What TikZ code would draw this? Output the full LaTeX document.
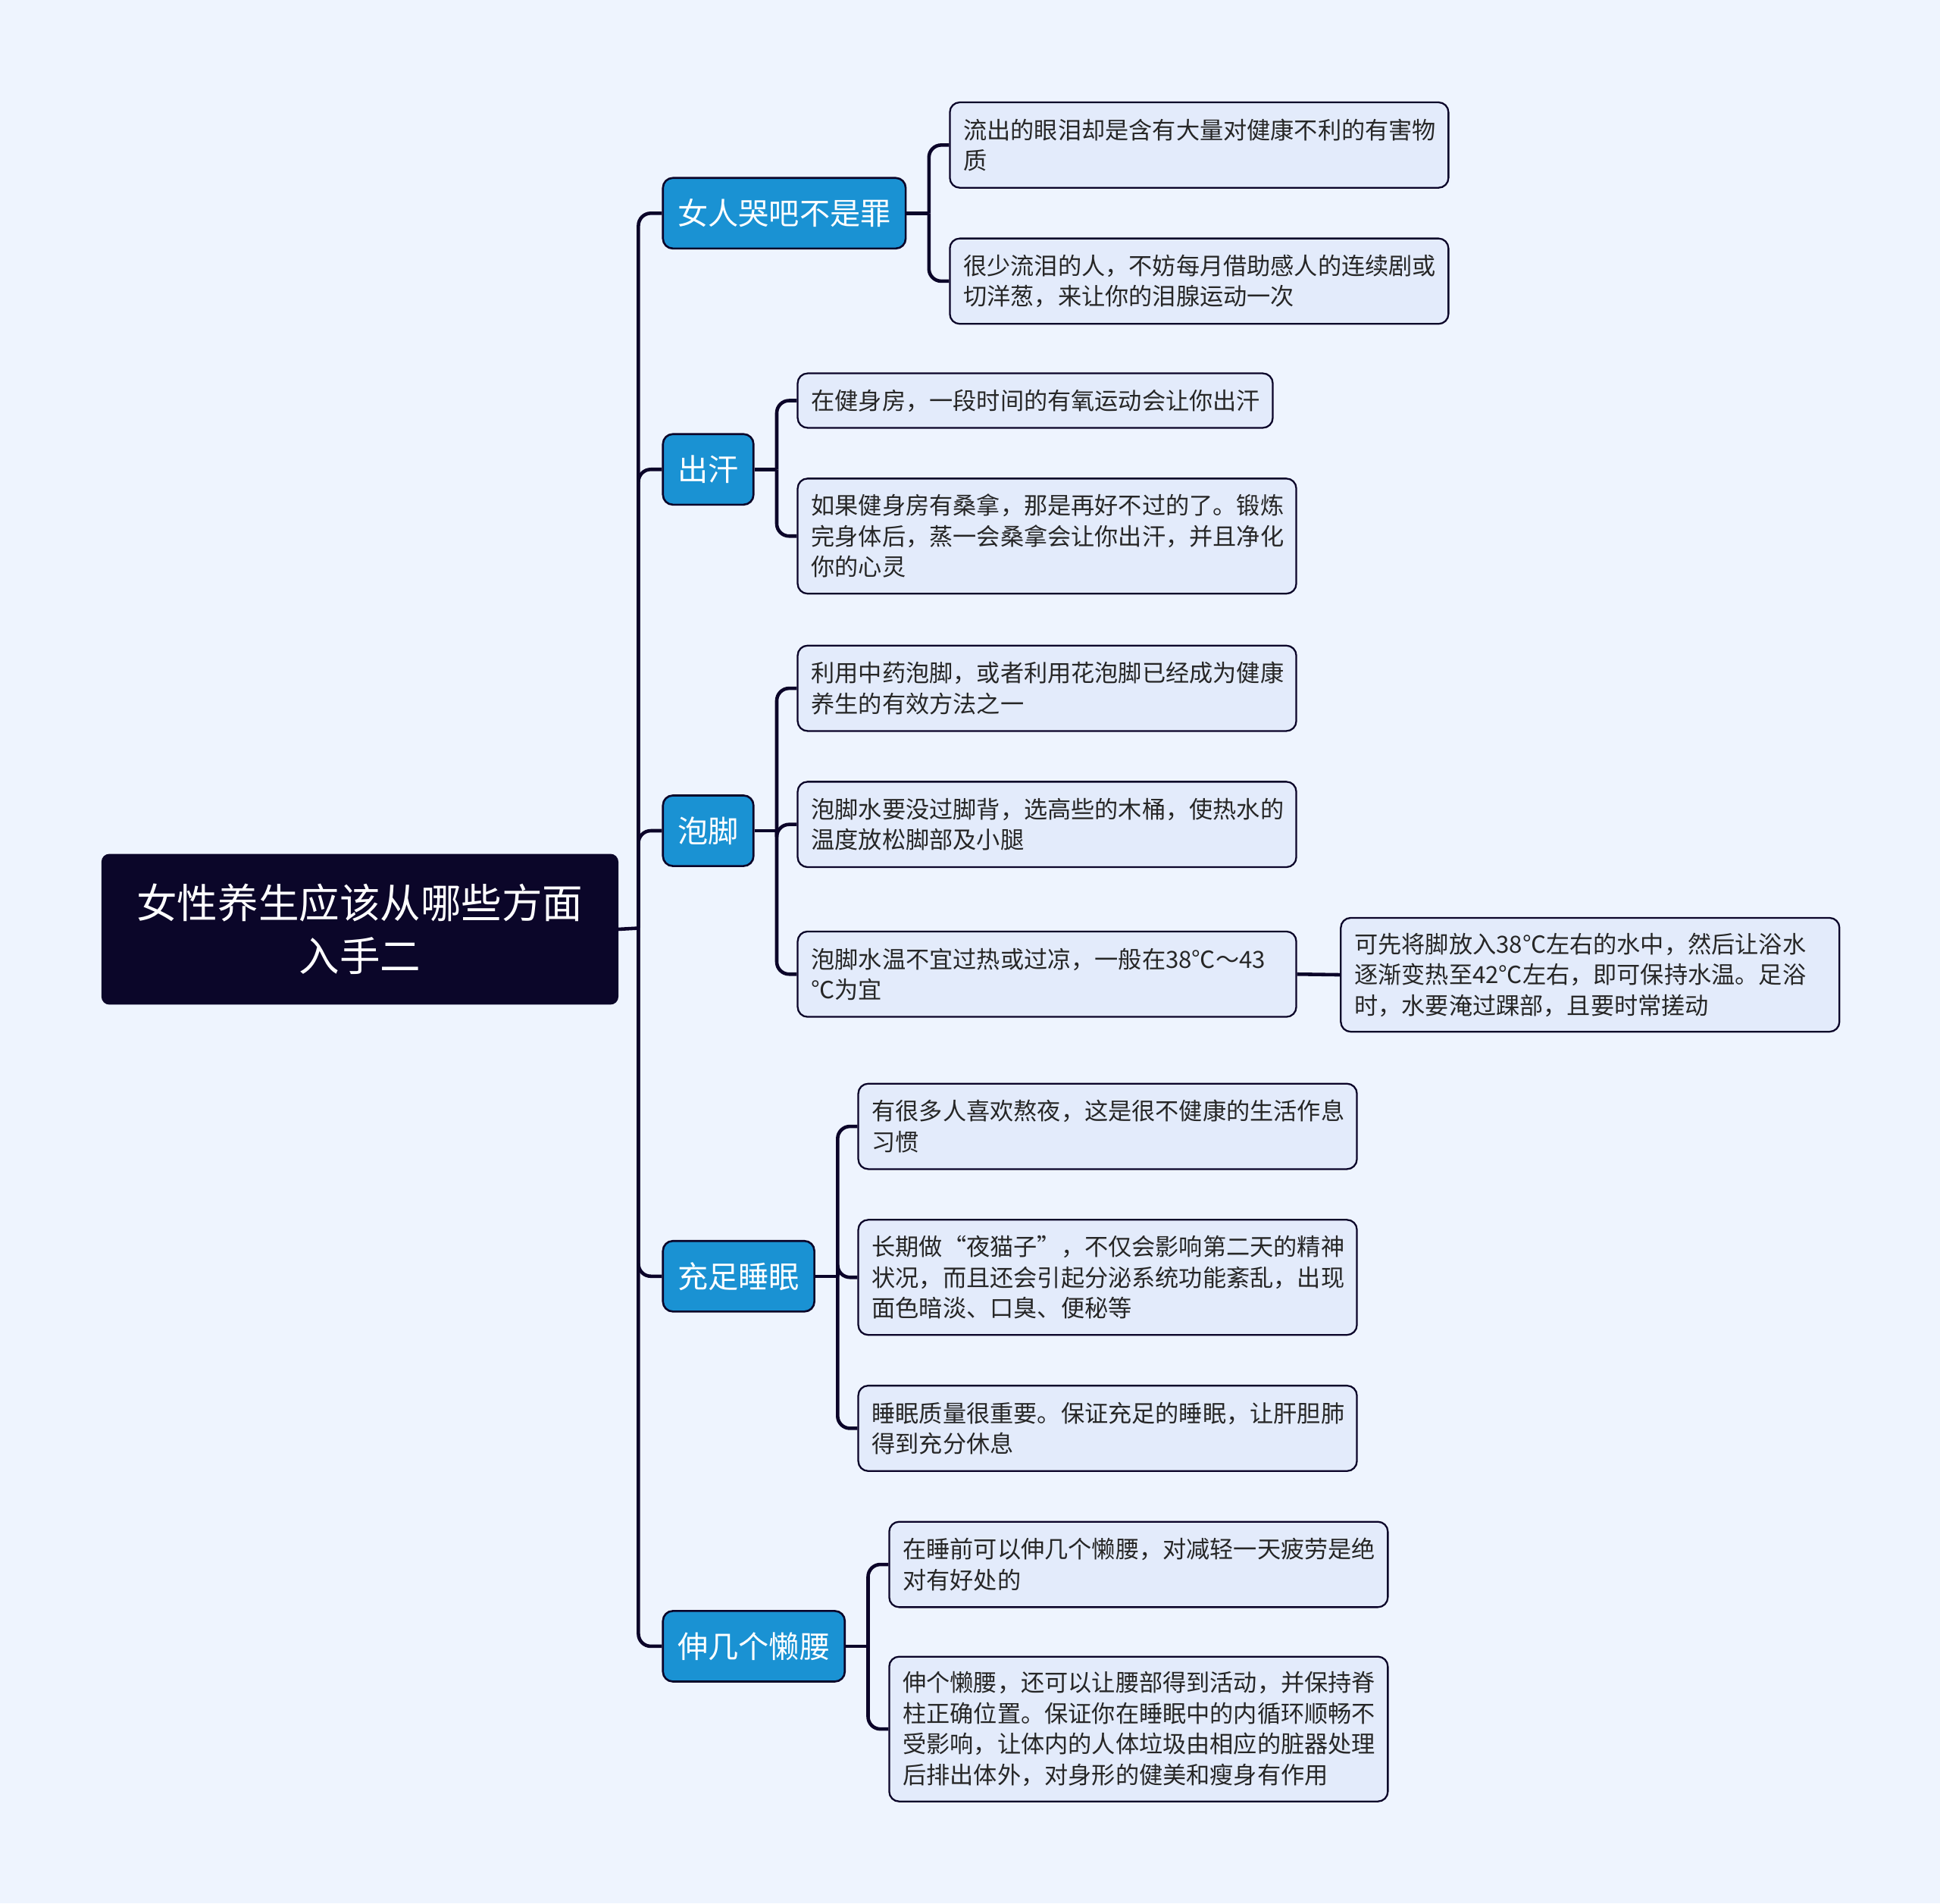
\documentclass[tikz,border=0pt]{standalone}
\usepackage{fontspec}
\setmainfont{Noto Sans CJK SC}
\usepackage{xcolor}
\usepackage{tikz}
\usetikzlibrary{positioning}

\definecolor{bgc}{HTML}{EEF4FE}
\definecolor{leaff}{HTML}{E3EBFB}
\definecolor{rootf}{HTML}{0B0629}
\definecolor{branchf}{HTML}{1A92D3}
\definecolor{linec}{HTML}{0B0429}

\begin{document}
\begin{tikzpicture}[x=0.5pt, y=-0.5pt,
  conn/.style={draw=linec, line width=1.4pt, rounded corners=5pt},
  root/.style={draw=linec, fill=rootf, text=white, rounded corners=3pt, anchor=north west,
    align=center, text width=196.5pt, minimum height=60.5pt, inner xsep=6pt,
    font=\fontsize{16.4}{21.5}\selectfont},
  branch/.style={draw=linec, line width=0.8pt, fill=branchf, text=white, rounded corners=4pt,
    anchor=north west, minimum height=28.5pt, inner xsep=6pt, inner ysep=0pt,
    font=\fontsize{12.3}{14}\selectfont},
  leaf/.style={draw=linec, line width=0.7pt, fill=leaff, text=black!85, rounded corners=4pt,
    anchor=north west, align=left, text width=190.5pt, inner xsep=5.5pt, inner ysep=0pt,
    font=\fontsize{9.55}{12.4}\selectfont}]
  \fill[bgc] (0,0) rectangle (1568,1538);
  \useasboundingbox (0,0) rectangle (1568,1538);
  % root and branches
  \node[root] (root) at (82,690) {女性养生应该从哪些方面\\入手二};
  \node[branch] (b1) at (535,143)  {女人哭吧不是罪};
  \node[branch] (b2) at (535,350)  {出汗};
  \node[branch] (b3) at (535,642)  {泡脚};
  \node[branch] (b4) at (535,1002) {充足睡眠};
  \node[branch] (b5) at (535,1301) {伸几个懒腰};
  % leaves
  \node[leaf, minimum height=34.5pt] (l11) at (767,82) {流出的眼泪却是含有大量对健康不利的有害物\\质};
  \node[leaf, minimum height=34.5pt] (l12) at (767,192) {很少流泪的人，不妨每月借助感人的连续剧或\\切洋葱，来让你的泪腺运动一次};
  \node[leaf, minimum height=22pt, text width=181pt] (l21) at (644,301) {在健身房，一段时间的有氧运动会让你出汗};
  \node[leaf, minimum height=46.5pt] (l22) at (644,386) {如果健身房有桑拿，那是再好不过的了。锻炼\\完身体后，蒸一会桑拿会让你出汗，并且净化\\你的心灵};
  \node[leaf, minimum height=34.5pt] (l31) at (644,521) {利用中药泡脚，或者利用花泡脚已经成为健康\\养生的有效方法之一};
  \node[leaf, minimum height=34.5pt] (l32) at (644,631) {泡脚水要没过脚背，选高些的木桶，使热水的\\温度放松脚部及小腿};
  \node[leaf, minimum height=34.5pt] (l33) at (644,752) {泡脚水温不宜过热或过凉，一般在38℃～43\\℃为宜};
  \node[leaf, minimum height=46pt] (l34) at (1083,741) {可先将脚放入38℃左右的水中，然后让浴水\\逐渐变热至42℃左右，即可保持水温。足浴\\时，水要淹过踝部，且要时常搓动};
  \node[leaf, minimum height=34.5pt] (l41) at (693,875) {有很多人喜欢熬夜，这是很不健康的生活作息\\习惯};
  \node[leaf, minimum height=46.5pt] (l42) at (693,985) {长期做“夜猫子”，不仅会影响第二天的精神\\状况，而且还会引起分泌系统功能紊乱，出现\\面色暗淡、口臭、便秘等};
  \node[leaf, minimum height=34.5pt] (l43) at (693,1119) {睡眠质量很重要。保证充足的睡眠，让肝胆肺\\得到充分休息};
  \node[leaf, minimum height=34.5pt] (l51) at (718,1229) {在睡前可以伸几个懒腰，对减轻一天疲劳是绝\\对有好处的};
  \node[leaf, minimum height=58.5pt] (l52) at (718,1338) {伸个懒腰，还可以让腰部得到活动，并保持脊\\柱正确位置。保证你在睡眠中的内循环顺畅不\\受影响，让体内的人体垃圾由相应的脏器处理\\后排出体外，对身形的健美和瘦身有作用};
  % connectors
  \coordinate (trunk) at (516,750);
  \draw[conn] (root.east) -- (trunk);
  \foreach \b in {b1,b2,b3,b4,b5}
    \draw[conn] (trunk) |- (\b.west);
  \foreach \b/\j in {b1/j1,b2/j2,b3/j3,b4/j4,b5/j5}{
    \path (\b.east) ++(18,0) coordinate (\j);
    \draw[conn] (\b.east) -- (\j);}
  \foreach \j/\l in {j1/l11,j1/l12,j2/l21,j2/l22,j3/l31,j3/l32,j3/l33,j4/l41,j4/l42,j4/l43,j5/l51,j5/l52}
    \draw[conn] (\j) |- (\l.west);
  \draw[conn] (l33.east) -- (l34.west);
\end{tikzpicture}
\end{document}
